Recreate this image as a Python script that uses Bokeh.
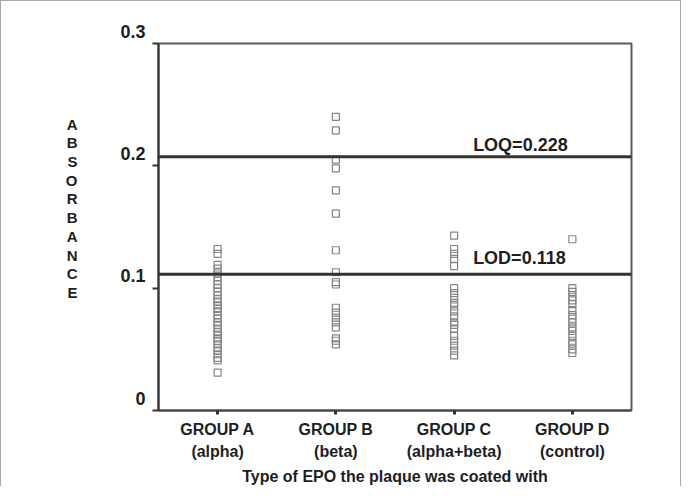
from bokeh.plotting import figure
from bokeh.models import FactorRange, Range1d, FixedTicker, Span, ColumnDataSource, InlineStyleSheet
from bokeh.core.properties import value
from bokeh.embed import file_html
from bokeh.resources import INLINE

# ---- data ----
groups = ["GROUP A\n(alpha)", "GROUP B\n(beta)", "GROUP C\n(alpha+beta)", "GROUP D\n(control)"]

group_a = [0.132, 0.128, 0.119, 0.116, 0.112, 0.109, 0.106, 0.103, 0.100, 0.097,
           0.094, 0.091, 0.089, 0.086, 0.083, 0.081, 0.078, 0.075, 0.072, 0.070,
           0.067, 0.064, 0.062, 0.059, 0.057, 0.054, 0.051, 0.049, 0.046, 0.043,
           0.041, 0.031]
group_b = [0.240, 0.229, 0.205, 0.198, 0.180, 0.161, 0.131, 0.113, 0.105, 0.103,
           0.084, 0.080, 0.076, 0.072, 0.068, 0.059, 0.057, 0.054]
group_c = [0.143, 0.132, 0.128, 0.124, 0.118, 0.100, 0.096, 0.092, 0.088, 0.085,
           0.081, 0.077, 0.072, 0.070, 0.067, 0.061, 0.057, 0.053, 0.049, 0.045]
group_d = [0.140, 0.100, 0.097, 0.093, 0.090, 0.087, 0.082, 0.078, 0.075, 0.072,
           0.068, 0.065, 0.061, 0.057, 0.054, 0.050, 0.047]

y_ticks = [0, 0.1, 0.2, 0.3]
y_tick_labels = ["0", "0.1", "0.2", "0.3"]

loq_level = 0.2075
lod_level = 0.1113
loq_text = "LOQ=0.228"
lod_text = "LOD=0.118"

x_title = "Type of EPO the plaque was coated with"
y_title = "ABSORBANCE"

# ---- build source ----
series = [group_a, group_b, group_c, group_d]
xs, ys = [], []
for g, vals in zip(groups, series):
    xs += [g] * len(vals)
    ys += vals
src = ColumnDataSource(data=dict(x=xs, y=ys))

FONT = "Liberation Sans"
TXT = "#1e1e1e"

p = figure(
    x_range=FactorRange(*groups, range_padding=0),
    y_range=Range1d(0, 0.3),
    width=681, height=486,
    min_border_left=157, min_border_right=51,
    min_border_top=42, min_border_bottom=76,
    output_backend="svg", toolbar_location=None,
    background_fill_color="white", border_fill_color="white",
)
p.stylesheets = [InlineStyleSheet(css=":host { border-top: 1px solid #a8a8a8; "
                                      "border-left: 1px solid #a8a8a8; "
                                      "border-right: 1px solid #a8a8a8; }")]

p.xgrid.visible = False
p.ygrid.visible = False
p.outline_line_color = "#5a5a5a"
p.outline_line_width = 2

# points
p.scatter(x="x", y="y", source=src, marker="square", size=7,
          fill_alpha=0, line_color="#858585", line_width=1.2)

# threshold lines
for lvl in (loq_level, lod_level):
    p.add_layout(Span(location=lvl, dimension="width", line_color="#333333", line_width=3))

p.text(x=[groups[2]], y=[loq_level], text=[loq_text], x_offset=19, y_offset=-12,
       text_align="left", text_baseline="middle", text_font=value(FONT),
       text_font_style="bold", text_font_size="18px", text_color=TXT)
p.text(x=[groups[2]], y=[lod_level], text=[lod_text], x_offset=19, y_offset=-16,
       text_align="left", text_baseline="middle", text_font=value(FONT),
       text_font_style="bold", text_font_size="18px", text_color=TXT)

# y axis (labels sit slightly above their ticks, as in the original)
ya = p.yaxis[0]
ya.ticker = FixedTicker(ticks=y_ticks)
ya.major_label_overrides = {t: l + "\n" for t, l in zip(y_ticks, y_tick_labels)}
ya.major_label_text_font = FONT
ya.major_label_text_font_style = "bold"
ya.major_label_text_font_size = "18px"
ya.major_label_text_color = TXT
ya.major_label_text_line_height = 1.2
ya.major_label_standoff = 7
ya.axis_line_color = "#333333"
ya.axis_line_width = 2
ya.major_tick_line_color = "#333333"
ya.major_tick_line_width = 2
ya.major_tick_in = 0
ya.major_tick_out = 6
ya.minor_tick_line_color = None
ya.axis_label = "\n".join(y_title) + "\n\n"
ya.axis_label_orientation = "horizontal"
ya.axis_label_text_font = FONT
ya.axis_label_text_font_style = "bold"
ya.axis_label_text_font_size = "15px"
ya.axis_label_text_line_height = 1.1
ya.axis_label_text_color = TXT
ya.axis_label_standoff = 40

# x axis
xa = p.xaxis[0]
xa.major_label_text_font = FONT
xa.major_label_text_font_style = "bold"
xa.major_label_text_font_size = "16px"
xa.major_label_text_color = TXT
xa.major_label_text_line_height = 1.3
xa.major_label_standoff = 6
xa.axis_line_color = "#444444"
xa.axis_line_width = 2
xa.major_tick_line_color = "#333333"
xa.major_tick_line_width = 3
xa.major_tick_in = 0
xa.major_tick_out = 4
xa.axis_label = x_title
xa.axis_label_text_font = FONT
xa.axis_label_text_font_style = "bold"
xa.axis_label_text_font_size = "16px"
xa.axis_label_text_color = TXT
xa.axis_label_standoff = 5

open("out.html", "w").write(file_html(p, INLINE))
